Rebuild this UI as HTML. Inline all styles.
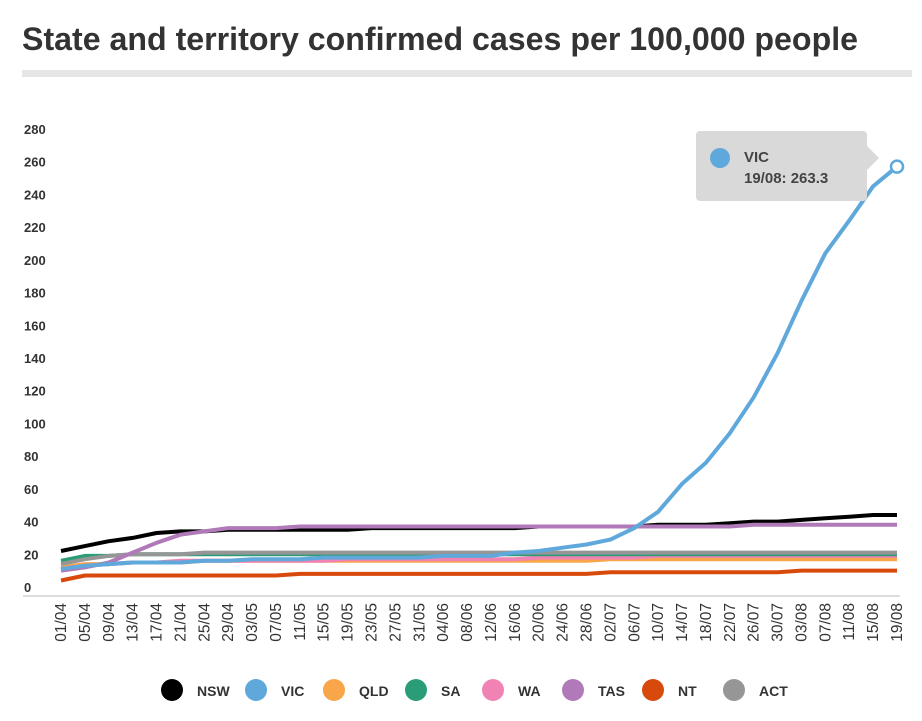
<!DOCTYPE html>
<html><head><meta charset="utf-8"><style>
body{margin:0;background:#fff;width:922px;height:716px;overflow:hidden;font-family:"Liberation Sans","DejaVu Sans",sans-serif}
</style></head><body>
<svg id="c" width="922" height="716">
<text x="22" y="50" font-size="32" font-weight="bold" fill="#333" textLength="836" lengthAdjust="spacingAndGlyphs">State and territory confirmed cases per 100,000 people</text>
<rect x="22" y="70" width="890" height="7" fill="#e6e6e6"/>
<g id="grid"></g><g id="lines"></g><g id="legend"></g>
</svg>
<script>
const dayIdx=[0,4,8,12,16,20,24,28,32,36,40,44,48,52,56,60,64,68,72,76,80,84,88,92,96,100,104,108,112,116,120,124,128,132,136,140];
const vic=[11,13,14,15,15,15,16,16,17,17,17,18,18,18,18,18,19,19,19,21,22,24,26,29,36,46,63,76,94,116,143,175,204,224,245,257];
const nsw=[22,25,28,30,33,34,34,35,35,35,35,35,35,36,36,36,36,36,36,36,37,37,37,37,37,38,38,38,39,40,40,41,42,43,44,44];
const qld=[12,14,14,15,15,15,16,16,16,16,16,16,16,16,16,16,16,16,16,16,16,16,16,17,17,17,17,17,17,17,17,17,17,17,17,17];
const sa=[16,19,19,20,20,20,20,20,20,20,20,20,20,20,20,20,20,20,20,20,20,20,20,20,20,20,20,20,20,20,20,20,20,20,20,20];
const wa=[11,13,14,15,15,16,16,16,16,16,16,16,17,17,17,17,17,17,17,17,18,18,18,18,18,19,19,19,19,19,19,19,19,19,19,19];
const tas=[10,12,15,21,27,32,34,36,36,36,37,37,37,37,37,37,37,37,37,37,37,37,37,37,37,37,37,37,37,38,38,38,38,38,38,38];
const nt=[4,7,7,7,7,7,7,7,7,7,8,8,8,8,8,8,8,8,8,8,8,8,8,9,9,9,9,9,9,9,9,10,10,10,10,10];
const act=[14,17,19,20,20,20,21,21,21,21,21,21,21,21,21,21,21,21,21,21,21,21,21,21,21,21,21,21,21,21,21,21,21,21,21,21];
const yTicks=[0,20,40,60,80,100,120,140,160,180,200,220,240,260,280];
const xLabels=["01/04","05/04","09/04","13/04","17/04","21/04","25/04","29/04","03/05","07/05","11/05","15/05","19/05","23/05","27/05","31/05","04/06","08/06","12/06","16/06","20/06","24/06","28/06","02/07","06/07","10/07","14/07","18/07","22/07","26/07","30/07","03/08","07/08","11/08","15/08","19/08"];
const seriesNames=["NSW","VIC","QLD","SA","WA","TAS","NT","ACT"];
const seriesData=[nsw,vic,qld,sa,wa,tas,nt,act];
const colors=["#000000","#5fa8dc","#f9a54a","#2a9d78","#f083b4","#b07ab8","#d84a0c","#969696"];
const NS="http://www.w3.org/2000/svg";
const x=d=>61+d*(836/140);
const y=v=>587-v*(458/280);
function mk(t,a,p){const e=document.createElementNS(NS,t);for(const k in a)e.setAttribute(k,a[k]);p.appendChild(e);return e;}
const g=document.getElementById('grid');
const ax=mk('line',{x1:23,x2:900,y1:596,y2:596,stroke:'#ddd','stroke-width':2},g);


yTicks.forEach(v=>{const t=mk('text',{x:24,y:y(v)+5,'font-size':13,'font-weight':'bold',fill:'#333'},g);t.textContent=v;

});
xLabels.forEach((l,i)=>{const xx=x(i*4)+5;const t=mk('text',{x:0,y:0,'font-size':15.5,fill:'#333','text-anchor':'end',transform:`translate(${xx},603) rotate(-90)`},g);t.textContent=l;

});
const L=document.getElementById('lines');
[6,2,4,3,7,0,5,1].forEach(i=>{const d=seriesData[i].map((v,j)=>(j?'L':'M')+x(dayIdx[j]).toFixed(1)+','+y(v).toFixed(1)).join('');
const p=mk('path',{d:d,fill:'none',stroke:colors[i],'stroke-width':4,'stroke-linejoin':'round'},L);

});
const last=vic.length-1;
const m=mk('circle',{cx:x(dayIdx[last]),cy:y(vic[last]),r:6,fill:'#fff',stroke:'#5fa8dc','stroke-width':2.5},L);


const tg=mk('g',{},L);


mk('path',{d:'M700,131 h163 a4,4 0 0 1 4,4 v11 l12,12 l-12,12 v27 a4,4 0 0 1 -4,4 h-163 a4,4 0 0 1 -4,-4 v-62 a4,4 0 0 1 4,-4 z',fill:'#d9d9d9'},tg);
mk('circle',{cx:720,cy:158,r:10,fill:'#5fa8dc'},tg);
const t1=mk('text',{x:744,y:162,'font-size':15,'font-weight':'bold',fill:'#444'},tg);t1.textContent='VIC';
const t2=mk('text',{x:744,y:183,'font-size':15,'font-weight':'bold',fill:'#444'},tg);t2.textContent='19/08: 263.3';
const lg=document.getElementById('legend');
const lx=[172,256,334,416,493,573,653,734];
seriesNames.forEach((n,i)=>{const e=mk('g',{},lg);


mk('circle',{cx:lx[i],cy:690,r:11,fill:colors[i]},e);
const t=mk('text',{x:lx[i]+25,y:696,'font-size':14,'font-weight':'bold',fill:'#333'},e);t.textContent=n;});
</script>
</body></html>
